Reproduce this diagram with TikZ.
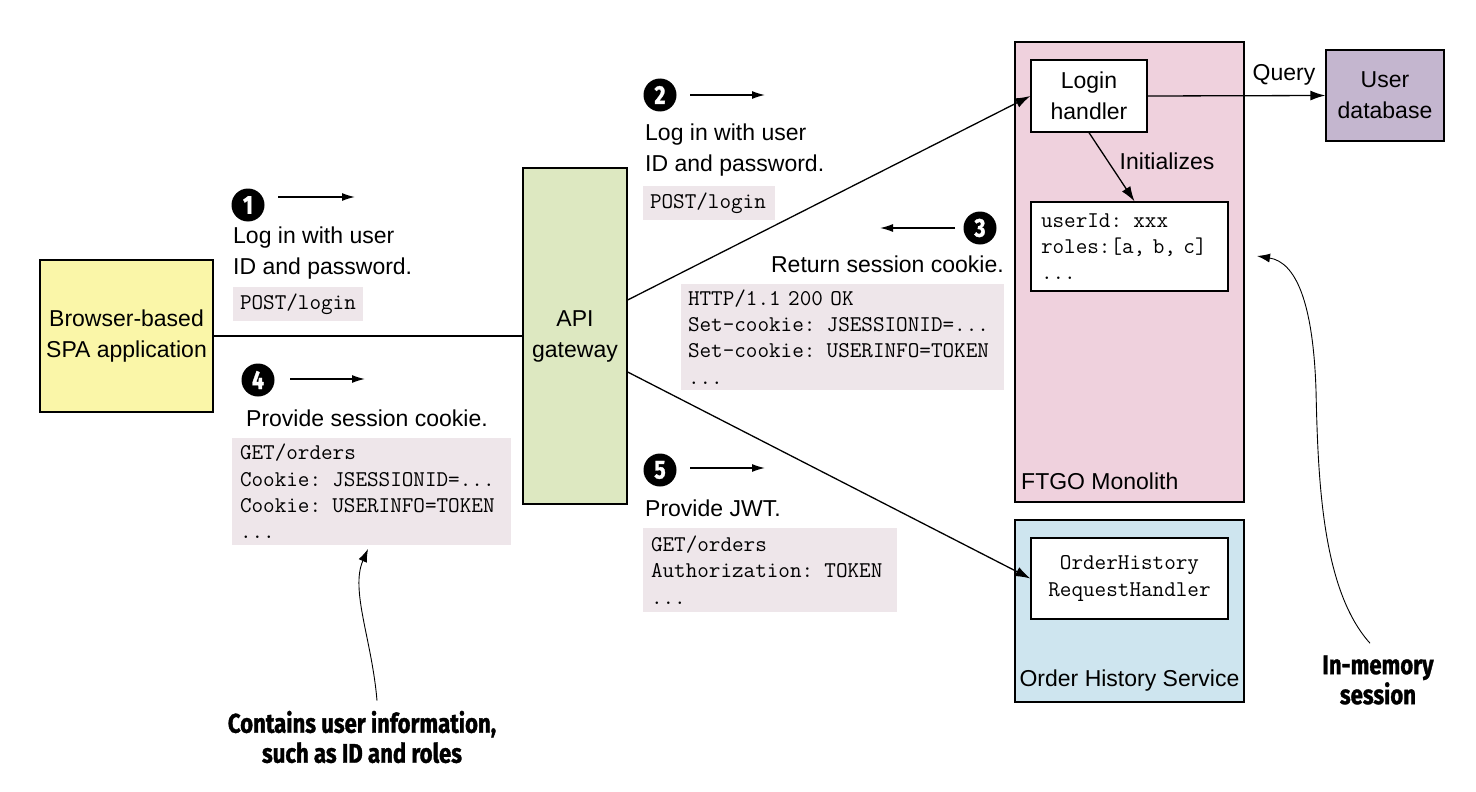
\documentclass[tikz,border=0pt]{standalone}
\usepackage{fontspec}
\setmainfont{Liberation Sans}
\newfontfamily\condbold[FakeStretch=0.82,FakeBold=1.2]{Fira Sans}
\usetikzlibrary{arrows.meta,calc}
\definecolor{spacol}{HTML}{FAF6A8}
\definecolor{gwcol}{HTML}{DDE8C1}
\definecolor{monocol}{HTML}{EFD1DD}
\definecolor{ohscol}{HTML}{CEE5EF}
\definecolor{udbcol}{HTML}{C4B6CF}
\definecolor{codebg}{HTML}{EEE6EA}
\begin{document}
\begin{tikzpicture}[x=1pt,y=-1pt,
  box/.style={draw, line width=1.3pt, inner sep=0pt, align=center, font=\fontsize{23}{31}\selectfont},
  code/.style={fill=codebg, inner ysep=0pt, align=left, font=\ttfamily\fontsize{22.5}{26.3}\selectfont},
  lbl/.style={inner sep=0pt, align=left, font=\fontsize{23}{31}\selectfont},
  num/.style={circle, fill=black, text=white, minimum size=33pt, inner sep=0pt, font=\condbold\bfseries\fontsize{26}{26}\selectfont},
  arr/.style={-{Latex[length=15pt,width=10pt]}, line width=1.3pt},
  sarr/.style={-{Latex[length=13pt,width=8pt]}, line width=1.3pt},
  carr/.style={-{Latex[length=13pt,width=9pt]}, line width=0.9pt},
  note/.style={align=center, inner sep=0pt, font=\condbold\bfseries\fontsize{27}{30}\selectfont}]
\useasboundingbox (0,0) rectangle (1476,792);

% containers
\node[box, fill=monocol, minimum width=229pt, minimum height=460pt] (mono) at (1129.5,272) {};
\node[box, fill=ohscol, minimum width=229pt, minimum height=182pt] (ohs) at (1129.5,611) {};
\node[lbl, anchor=west] (monolbl) at (1021,481) {FTGO Monolith};
\node[lbl, anchor=center] (ohslbl) at (1129.5,681) {Order History Service};

% main boxes
\node[box, fill=spacol, minimum width=173pt, minimum height=152pt] (spa) at (126.5,336) {Browser-based\\SPA application};
\node[box, fill=gwcol, minimum width=104pt, minimum height=336pt] (gw) at (575,336) {API\\gateway};
\node[box, fill=white, minimum width=116pt, minimum height=72pt] (lh) at (1089,96) {Login\\handler};
\node[box, fill=udbcol, minimum width=118pt, minimum height=91pt] (udb) at (1385,95.5) {User\\database};
\node[box, fill=white, minimum width=197pt, minimum height=89pt, inner xsep=10pt, text width=177pt, align=left, font=\ttfamily\fontsize{22.5}{26.3}\selectfont] (sess) at (1129.5,246.5) {userId: xxx\\roles:[a, b, c]\\...};
\node[box, fill=white, minimum width=197pt, minimum height=81pt, font=\ttfamily\fontsize{22.5}{26.3}\selectfont] (ohr) at (1129.5,578.5) {OrderHistory\\RequestHandler};

% connectors
\draw[line width=1.3pt] (spa.east) -- (gw.west);
\draw[arr] ([yshift=36pt]gw.east) -- (lh.west);
\draw[arr] ([yshift=-36pt]gw.east) -- (ohr.west);
\draw[arr] (lh.east) -- (udb.west);
\node[lbl, anchor=center] (qlbl) at (1284,75) {Query};
\draw[arr] (lh.south) -- ([xshift=5pt]sess.north);
\node[lbl, anchor=center] (ilbl) at (1167,161) {Initializes};

% step 1
\node[num] (n1) at (248,205) {1};
\draw[sarr] ($(n1.center)+(30,-8)$) coordinate (a1s) -- ++(77,0) coordinate (a1e);
\node[lbl, anchor=west] (t1) at (233,253.5) {Log in with user\\ID and password.};
\node[code, minimum width=130pt, minimum height=34pt, text width=116pt, inner xsep=7pt] (c1) at (298,304) {POST/login};

% step 4
\node[num] (n4) at (258,380) {4};
\draw[sarr] ($(n4.center)+(32,-1)$) coordinate (a4s) -- ++(75,0) coordinate (a4e);
\node[lbl, anchor=west] (t4) at (246,418) {Provide session cookie.};
\node[code, minimum width=279pt, minimum height=107pt, text width=263pt, inner xsep=8pt] (c4) at (371.5,491.5) {GET/orders\\Cookie: JSESSIONID=...\\Cookie: USERINFO=TOKEN\\...};

% step 2
\node[num] (n2) at (660,95) {2};
\draw[sarr] ($(n2.center)+(30,0)$) coordinate (a2s) -- ++(75,0) coordinate (a2e);
\node[lbl, anchor=west] (t2) at (645,150.5) {Log in with user\\ID and password.};
\node[code, minimum width=132pt, minimum height=34pt, text width=118pt, inner xsep=7pt] (c2) at (709,203) {POST/login};

% step 3
\node[num] (n3) at (980,228) {3};
\draw[sarr] ($(n3.center)+(-25,0)$) coordinate (a3s) -- ++(-75,0) coordinate (a3e);
\node[lbl, anchor=east] (t3) at (1004,264) {Return session cookie.};
\node[code, minimum width=323pt, minimum height=106pt, text width=309pt, inner xsep=7pt] (c3) at (842.5,337) {HTTP/1.1 200 OK\\Set-cookie: JSESSIONID=...\\Set-cookie: USERINFO=TOKEN\\...};

% step 5
\node[num] (n5) at (660,470) {5};
\draw[sarr] ($(n5.center)+(30,-2)$) coordinate (a5s) -- ++(75,0) coordinate (a5e);
\node[lbl, anchor=west] (t5) at (645,508) {Provide JWT.};
\node[code, minimum width=254pt, minimum height=84pt, text width=238pt, inner xsep=8pt] (c5) at (770,570) {GET/orders\\Authorization: TOKEN\\...};

% notes
\node[note] (note1) at (362,737) {Contains user information,\\such as ID and roles};
\node[note] (note2) at (1378,680) {In-memory\\session};
\coordinate (tip1) at (368,549);
\draw[carr] ([xshift=15pt,yshift=10pt]note1.north) .. controls (372,640) and (350,590) .. (tip1);
\coordinate (tip2) at (1257,256);
\draw[carr] ([xshift=-8pt,yshift=12pt]note2.north) .. controls (1322,590) and (1318,480) .. (1316,390) .. controls (1313,300) and (1295,262) .. (tip2);
\end{tikzpicture}
\end{document}
